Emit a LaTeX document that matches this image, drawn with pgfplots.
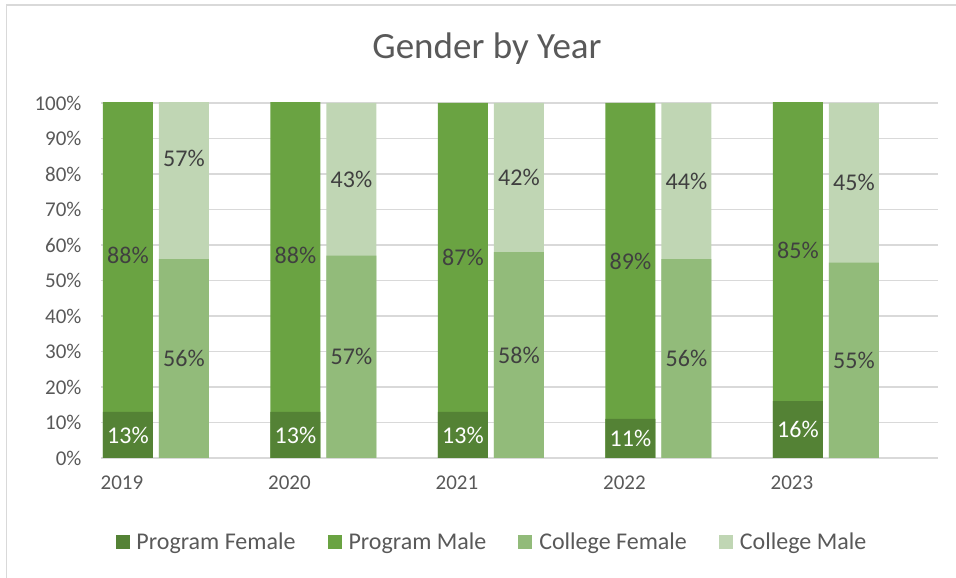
\documentclass[border=0pt]{standalone}
\usepackage{pgfplots}
\pgfplotsset{compat=1.18}
\usepackage{pgfplotstable}
\usepackage{fontspec}
\setmainfont{Carlito}
\definecolor{pf}{HTML}{548235}
\definecolor{pm}{HTML}{6AA342}
\definecolor{cf}{HTML}{92BB7A}
\definecolor{cm}{HTML}{C0D6B4}
\definecolor{gridc}{HTML}{D9D9D9}
\definecolor{txt}{HTML}{595959}
\definecolor{lbl}{HTML}{404040}

\pgfplotstableread{
x pf pm cf cm
0 13 88 56 57
1 13 88 57 43
2 13 87 58 42
3 11 89 56 44
4 16 85 55 45
}\data

\begin{document}
\begin{tikzpicture}
\path[use as bounding box] (0pt,0pt) rectangle (956pt,578pt);
\draw[gridc, line width=1.5pt] (6.5pt,0pt) -- (6.5pt,573pt) -- (956pt,573pt);
\node[font=\fontsize{37}{42}\selectfont, text=txt] at (487pt,529pt) {Gender by Year};
\begin{axis}[
  at={(101pt,120pt)}, anchor=south west,
  scale only axis, width=837pt, height=355pt,
  xmin=-0.161, xmax=4.836, ymin=0, ymax=100,
  axis line style={draw=none},
  ymajorgrids, grid style={gridc, line width=1.4pt},
  major tick length=0,
  ytick={0,10,...,100},
  yticklabel={\pgfmathprintnumber{\tick}\%},
  yticklabel style={xshift=-16pt},
  xtick={-0.036,0.964,1.964,2.964,3.964},
  xticklabels={2019,2020,2021,2022,2023},
  xticklabel style={yshift=-14pt},
  tick label style={font=\fontsize{21}{24}\selectfont, text=txt},
  /pgf/number format/assume math mode=true,
  legend columns=4,
  legend style={at={(0.467,-0.237)}, anchor=center, draw=none, fill=none,
    font=\fontsize{24}{28}\selectfont, text=txt,
    /tikz/every even column/.append style={column sep=30pt}},
  legend image code/.code={\fill[#1, draw=none] (0pt,-7pt) rectangle (14pt,7pt); \path[draw=none, fill=none] (0pt,0pt) -- (19pt,0pt);},
  nodes near coords={\pgfmathprintnumber{\pgfplotspointmeta}\%},
  every node near coord/.append style={anchor=center, font=\fontsize{24}{28}\selectfont},
]
\addlegendimage{fill=pf}\addlegendentry{Program Female}
\addlegendimage{fill=pm}\addlegendentry{Program Male}
\addlegendimage{fill=cf}\addlegendentry{College Female}
\addlegendimage{fill=cm}\addlegendentry{College Male}

\addplot[ybar, bar shift=0pt, bar width=0.2985, fill=pm, draw=none, forget plot, nodes near coords={}]
  table[x=x, y expr=\thisrow{pf}+\thisrow{pm}] {\data};
\addplot[ybar, bar shift=0pt, bar width=0.2985, fill=pf, draw=none, forget plot, nodes near coords={}]
  table[x=x, y=pf] {\data};
\addplot[ybar, bar shift=0pt, bar width=0.2985, fill=cm, draw=none, forget plot, nodes near coords={}]
  table[x expr=\thisrow{x}+0.334, y expr=\thisrow{cf}+\thisrow{cm}] {\data};
\addplot[ybar, bar shift=0pt, bar width=0.2985, fill=cf, draw=none, forget plot, nodes near coords={}]
  table[x expr=\thisrow{x}+0.334, y=cf] {\data};

\addplot[draw=none, mark=none, forget plot, point meta=explicit,
  every node near coord/.append style={text=white}]
  table[x=x, y expr=\thisrow{pf}/2, meta=pf] {\data};
\addplot[draw=none, mark=none, forget plot, point meta=explicit,
  every node near coord/.append style={text=lbl}]
  table[x=x, y expr=\thisrow{pf}+\thisrow{pm}/2, meta=pm] {\data};
\addplot[draw=none, mark=none, forget plot, point meta=explicit,
  every node near coord/.append style={text=lbl}]
  table[x expr=\thisrow{x}+0.334, y expr=\thisrow{cf}/2, meta=cf] {\data};
\addplot[draw=none, mark=none, forget plot, point meta=explicit,
  every node near coord/.append style={text=lbl}]
  table[x expr=\thisrow{x}+0.334, y expr=\thisrow{cf}+\thisrow{cm}/2, meta=cm] {\data};
\end{axis}
\end{tikzpicture}
\end{document}
